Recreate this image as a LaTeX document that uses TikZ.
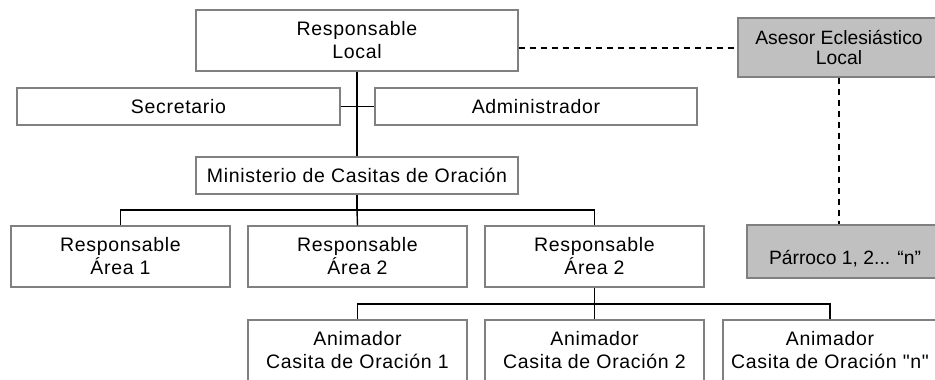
\documentclass[tikz,border=0pt]{standalone}
\usepackage{fontspec}
\setmainfont{Liberation Sans}
\newfontfamily\spacedfont{Liberation Sans}[LetterSpace=3.5]
\newfontfamily\plainfont{Liberation Sans}
\definecolor{boxline}{RGB}{128,128,128}
\definecolor{boxgray}{RGB}{192,192,192}
\tikzset{
  orgbox/.style={draw=boxline, line width=1.4pt, fill=white, rectangle, inner sep=0pt, align=center,
    font=\spacedfont\fontsize{19.5}{23}\selectfont},
  graybox/.style={orgbox, fill=boxgray, font=\plainfont\fontsize{19.3}{20}\selectfont},
  link/.style={draw=black, line width=1.4pt},
  dlink/.style={draw=black, line width=1.4pt, dash pattern=on 6pt off 5pt},
}
\begin{document}
\begin{tikzpicture}[x=1pt,y=-1pt]
\useasboundingbox (0,0) rectangle (935,380);
\clip (0,0) rectangle (935,380);
\fill[white] (0,0) rectangle (935,380);
\node[orgbox, minimum width=322pt, minimum height=61pt] (rl) at (357,40.5) {Responsable\\Local};
\node[orgbox, minimum width=323pt, minimum height=37pt] (sec) at (178.5,106.5) {Secretario};
\node[orgbox, minimum width=322pt, minimum height=37pt] (adm) at (536,106.5) {Administrador};
\node[orgbox, minimum width=322pt, minimum height=37pt] (min) at (357,175.5) {Ministerio de Casitas de Oración};
\node[graybox, minimum width=202pt, minimum height=59pt] (ase) at (839,47.5) {Asesor Eclesiástico\\Local};
\node[graybox, minimum width=196pt, minimum height=53pt] (par) at (845,251.5) {\raisebox{-7pt}[\height][\depth]{Párroco 1, 2... “n”}};
\node[orgbox, minimum width=219pt, minimum height=61pt] (a1) at (120.5,256.5) {Responsable\\Área 1};
\node[orgbox, minimum width=219pt, minimum height=61pt] (a2) at (357.5,256.5) {Responsable\\Área 2};
\node[orgbox, minimum width=219pt, minimum height=61pt] (a3) at (594.5,256.5) {Responsable\\Área 2};
\node[orgbox, minimum width=219pt, minimum height=61pt] (c1) at (357.5,350.5) {Animador\\Casita de Oración 1};
\node[orgbox, minimum width=219pt, minimum height=61pt] (c2) at (594.5,350.5) {Animador\\Casita de Oración 2};
\node[orgbox, minimum width=214pt, minimum height=61pt] (c3) at (830,350.5) {Animador\\Casita de Oración "n"};
% connectors
\coordinate (j1) at (357,210);
\coordinate (j2) at (594.5,304);
\draw[link] (rl.south) -- (min.north);
\draw[link] (sec.east) -- (adm.west);
\draw[link] (min.south) -- (j1);
\draw[link] (j1) -| (a1.north);
\draw[link] (j1) -| (a3.north);
\draw[link] (j1) -- (a2.north);
\draw[link] (a3.south) -- (j2);
\draw[link] (j2) -| (c1.north);
\draw[link] (j2) -| (c3.north);
\draw[link] (j2) -- (c2.north);
\draw[dlink] (rl.east |- 0,48) -- (ase.west |- 0,48);
\draw[dlink] (ase.south) -- (ase.south |- par.north);
\end{tikzpicture}
\end{document}
